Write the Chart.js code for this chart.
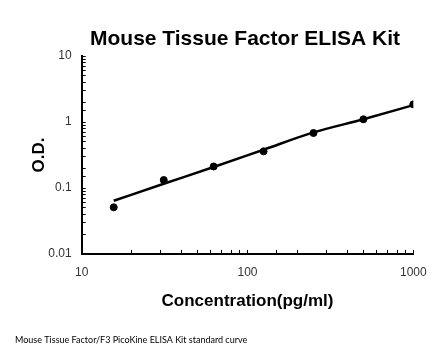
<!DOCTYPE html>
<html>
<head>
<meta charset="utf-8">
<script src="https://cdn.jsdelivr.net/npm/chart.js@4"></script>
<style>
html,body{margin:0;padding:0;background:#fff;}
#wrap{width:446px;height:356px;}
</style>
</head>
<body>
<div id="wrap"><canvas id="c" width="446" height="356"></canvas></div>
<script>
const chartTitle = "Mouse Tissue Factor ELISA Kit";
const footerText = "Mouse Tissue Factor/F3 PicoKine ELISA Kit standard curve";
const xTitle = "Concentration(pg/ml)";
const yTitle = "O.D.";
const concentrations = [15.6, 31.25, 62.5, 125, 250, 500, 1000];
const odValues = [0.051, 0.132, 0.212, 0.359, 0.681, 1.10, 1.85];
const curveX = [15.6, 31.25, 62.5, 125, 250, 500, 1000];
const curveY = [0.064, 0.116, 0.208, 0.38, 0.695, 1.10, 1.80];
const xTickLabels = [10, 100, 1000];
const yTickLabels = [0.01, 0.1, 1, 10];

const textPlugin = {
  id: 'texts',
  afterDraw(chart) {
    const ctx = chart.ctx;
    const ca = chart.chartArea;
    ctx.save();
    ctx.fillStyle = '#000';
    ctx.font = 'bold 21px "Liberation Sans", Arial, sans-serif';
    ctx.textAlign = 'center';
    ctx.textBaseline = 'alphabetic';
    ctx.fillText(chartTitle, 245, 45);
    ctx.font = '9px Lato, "Open Sans", sans-serif';
    ctx.textAlign = 'left';
    ctx.textBaseline = 'middle';
    ctx.fillText(footerText, 15, 340);
    ctx.restore();
  }
};

new Chart(document.getElementById('c'), {
  type: 'scatter',
  data: {
    datasets: [
      {
        type: 'line',
        data: curveX.map((x, i) => ({x: x, y: curveY[i]})),
        borderColor: '#000',
        borderWidth: 2.5,
        pointRadius: 0,
        cubicInterpolationMode: 'monotone',
        fill: false
      },
      {
        data: concentrations.map((x, i) => ({x: x, y: odValues[i]})),
        backgroundColor: '#000',
        borderColor: '#000',
        pointRadius: 3.5,
        pointHoverRadius: 3.5
      }
    ]
  },
  options: {
    responsive: false,
    animation: false,
    events: [],
    layout: {padding: {top: 56, bottom: 30, left: 0, right: 32.7}},
    plugins: {legend: {display: false}, tooltip: {enabled: false}, title: {display: false}},
    scales: {
      x: {
        type: 'logarithmic',
        min: 10, max: 1000,
        border: {display: true, color: '#000', width: 2},
        grid: {display: true, drawOnChartArea: false, drawTicks: true, tickLength: -4, color: '#000', lineWidth: 1},
        ticks: {
          padding: 15,
          color: '#333',
          font: {family: '"Liberation Sans", Arial, sans-serif', size: 12},
          autoSkip: false, maxRotation: 0,
          callback: (v) => xTickLabels.includes(v) ? String(v) : ''
        },
        title: {display: true, text: xTitle, color: '#000', font: {family: '"Liberation Sans", Arial, sans-serif', size: 17, weight: 'bold'}, padding: {top: 0, bottom: 14}},
        afterFit(scale) { scale.height = 72; }
      },
      y: {
        type: 'logarithmic',
        min: 0.01, max: 10,
        border: {display: true, color: '#000', width: 2},
        grid: {display: true, drawOnChartArea: false, drawTicks: true, tickLength: -4, color: '#000', lineWidth: 1},
        ticks: {
          padding: 14,
          color: '#333',
          font: {family: '"Liberation Sans", Arial, sans-serif', size: 12},
          autoSkip: false,
          callback: (v) => yTickLabels.includes(v) ? String(v) : ''
        },
        title: {display: true, text: yTitle, color: '#000', font: {family: '"Liberation Sans", Arial, sans-serif', size: 17, weight: 'bold'}, padding: {top: 29, bottom: 0}},
        afterFit(scale) { scale.width = 81.7; }
      }
    }
  },
  plugins: [textPlugin]
});
</script>
</body>
</html>
